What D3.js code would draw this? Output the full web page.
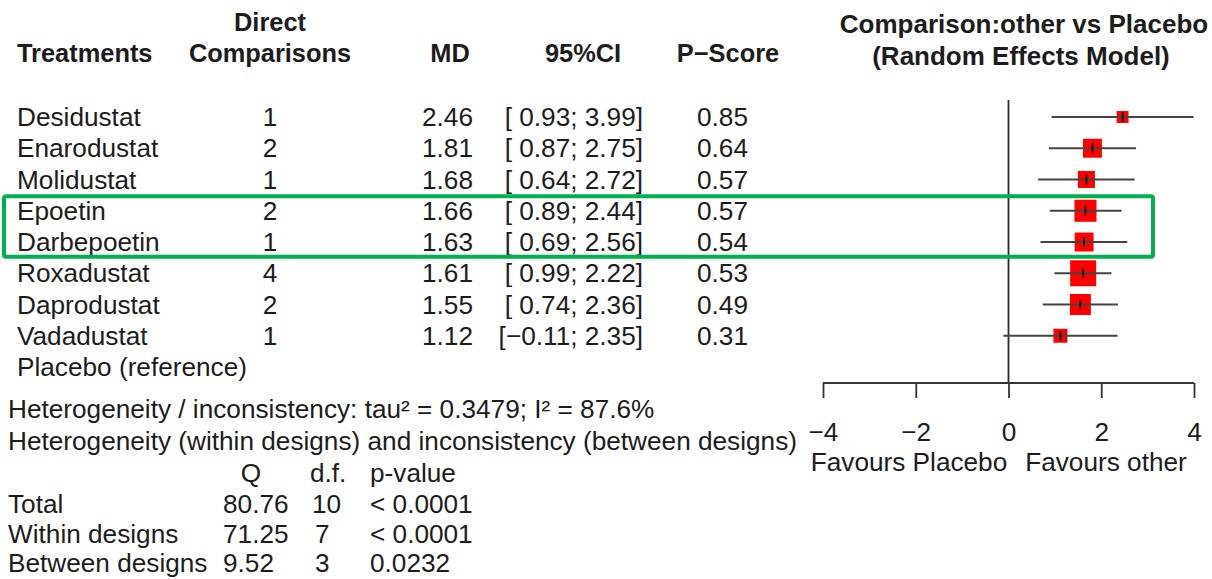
<!DOCTYPE html>
<html>
<head>
<meta charset="utf-8">
<script src="https://cdn.jsdelivr.net/npm/d3@7"></script>
<style>
  html, body { margin: 0; padding: 0; background: #fff; }
  svg { display: block; font-family: "Liberation Sans", Arial, Helvetica, sans-serif; }
  text { fill: #1c1c1c; }
</style>
</head>
<body>
<svg id="chart" width="1212" height="579"></svg>
<script>
// Network meta-analysis results: each treatment vs Placebo
const treatments = ["Desidustat", "Enarodustat", "Molidustat", "Epoetin", "Darbepoetin",
                    "Roxadustat", "Daprodustat", "Vadadustat", "Placebo (reference)"];
const directComparisons = [1, 2, 1, 2, 1, 4, 2, 1, null];
const md      = [2.46, 1.81, 1.68, 1.66, 1.63, 1.61, 1.55, 1.12, null];
const ciLower = [0.93, 0.87, 0.64, 0.89, 0.69, 0.99, 0.74, -0.11, null];
const ciUpper = [3.99, 2.75, 2.72, 2.44, 2.56, 2.22, 2.36, 2.35, null];
const pScore  = [0.85, 0.64, 0.57, 0.57, 0.54, 0.53, 0.49, 0.31, null];
// relative study weight, square area is proportional to it
const weights = [0.21, 0.53, 0.43, 0.72, 0.53, 1.00, 0.65, 0.29, null];

const xTicks = [-4, -2, 0, 2, 4];
const favourLabels = ["Favours Placebo", "Favours other"];

// Heterogeneity summary
const heterogeneityLine = "Heterogeneity / inconsistency: tau\u00B2 = 0.3479; I\u00B2 = 87.6%";
const designsLine = "Heterogeneity (within designs) and inconsistency (between designs)";
const qRows   = ["Total", "Within designs", "Between designs"];
const qValues = ["80.76", "71.25", "9.52"];
const qDf     = ["10", "7", "3"];
const qPvals  = ["< 0.0001", "< 0.0001", "0.0232"];

const svg = d3.select("#chart");
const FS = 26.2;
const HFS = 25.4;

const fmt2 = d3.format(".2f");
const fmtCI = v => (v < 0 ? "\u2212" + fmt2(-v) : " " + fmt2(v));

// Row layout
const y = d3.scalePoint().domain(d3.range(treatments.length)).range([117, 367]);
const x = d3.scaleLinear().domain([-4, 4]).range([823, 1194]);
const side = d3.scaleSqrt().domain([0, 1]).range([0, 26]);

function txt(g, s, px, py, anchor, bold, size) {
  return g.append("text")
    .attr("x", px).attr("y", py).attr("dy", "0.35em")
    .attr("text-anchor", anchor || "start")
    .attr("font-size", size || FS)
    .attr("font-weight", bold ? "bold" : "normal")
    .text(s);
}

// Column headers
const head = svg.append("g");
txt(head, "Treatments", 17, 53, "start", true, HFS);
txt(head, "Direct", 270, 22, "middle", true, HFS);
txt(head, "Comparisons", 270, 53, "middle", true, HFS);
txt(head, "MD", 450, 53, "middle", true, HFS);
txt(head, "95%CI", 583, 53, "middle", true, HFS);
txt(head, "P\u2212Score", 728, 53, "middle", true, HFS);

// Forest title
txt(head, "Comparison:other vs Placebo", 1024, 24, "middle", true, 26);
txt(head, "(Random Effects Model)", 1021, 56, "middle", true, 26);

// Table rows
const rows = svg.append("g").selectAll("g").data(treatments).join("g");
rows.each(function(t, i) {
  const g = d3.select(this);
  const yy = y(i);
  txt(g, t, 17, yy, "start");
  if (md[i] !== null) {
    txt(g, directComparisons[i], 270, yy, "middle");
    txt(g, fmt2(md[i]), 473, yy, "end");
    txt(g, "[" + fmtCI(ciLower[i]) + "; " + fmt2(ciUpper[i]) + "]", 643, yy, "end").attr("xml:space", "preserve").style("white-space", "pre");
    txt(g, fmt2(pScore[i]), 697, yy, "start");
  }
});

// Forest plot
const forest = svg.append("g");
forest.append("line")
  .attr("x1", x(0)).attr("x2", x(0))
  .attr("y1", 100).attr("y2", 383)
  .attr("stroke", "#2a2a2a").attr("stroke-width", 1.8);

const axis = d3.axisBottom(x).tickValues(xTicks).tickSize(15).tickPadding(24)
  .tickFormat(d => d < 0 ? "\u2212" + Math.abs(d) : d);
const ax = forest.append("g").attr("transform", "translate(0,383)").call(axis);
ax.select(".domain").attr("stroke", "#333").attr("stroke-width", 1.8)
  .attr("d", `M${x(-4)},0H${x(4)}`);
ax.selectAll(".tick line").attr("stroke", "#333").attr("stroke-width", 1.8);
ax.selectAll(".tick text").attr("font-size", FS).attr("font-family", "Liberation Sans, Arial, sans-serif")
  .attr("fill", "#1c1c1c");

txt(forest, favourLabels[0], 909, 462, "middle");
txt(forest, favourLabels[1], 1106, 462, "middle");

const est = treatments.map((t, i) => i).filter(i => md[i] !== null);
const marks = forest.append("g").selectAll("g").data(est).join("g");
marks.append("rect")
  .attr("x", i => x(md[i]) - side(weights[i]) / 2)
  .attr("y", i => y(i) - side(weights[i]) / 2)
  .attr("width", i => side(weights[i]))
  .attr("height", i => side(weights[i]))
  .attr("fill", "#ff0000");
marks.append("line")
  .attr("x1", i => x(ciLower[i])).attr("x2", i => x(ciUpper[i]))
  .attr("y1", i => y(i)).attr("y2", i => y(i))
  .attr("stroke", "#444").attr("stroke-width", 2.2);
marks.append("line")
  .attr("x1", i => x(md[i])).attr("x2", i => x(md[i]))
  .attr("y1", i => y(i) - 5).attr("y2", i => y(i) + 5)
  .attr("stroke", "#111").attr("stroke-width", 1.8);

// Heterogeneity summary
const het = svg.append("g");
txt(het, heterogeneityLine, 8, 409, "start");
txt(het, designsLine, 8, 441, "start");
txt(het, "Q", 251, 473, "middle");
txt(het, "d.f.", 310, 473, "start");
txt(het, "p-value", 370, 473, "start");
qRows.forEach((r, k) => {
  const yy = 504 + k * 29.5;
  txt(het, r, 8, yy, "start");
  txt(het, qValues[k], 223, yy, "start");
  txt(het, qDf[k], k === 0 ? 312 : 315, yy, "start");
  txt(het, qPvals[k], 370, yy, "start");
});

// Highlight box around the two ESA rows
svg.append("rect")
  .attr("x", 4).attr("y", (y(3) + y(2)) / 2 + 1)
  .attr("width", 1149)
  .attr("height", (y(5) + y(4)) / 2 - (y(3) + y(2)) / 2 - 2)
  .attr("rx", 2)
  .attr("fill", "none").attr("stroke", "#00b050").attr("stroke-width", 4);
</script>
</body>
</html>
